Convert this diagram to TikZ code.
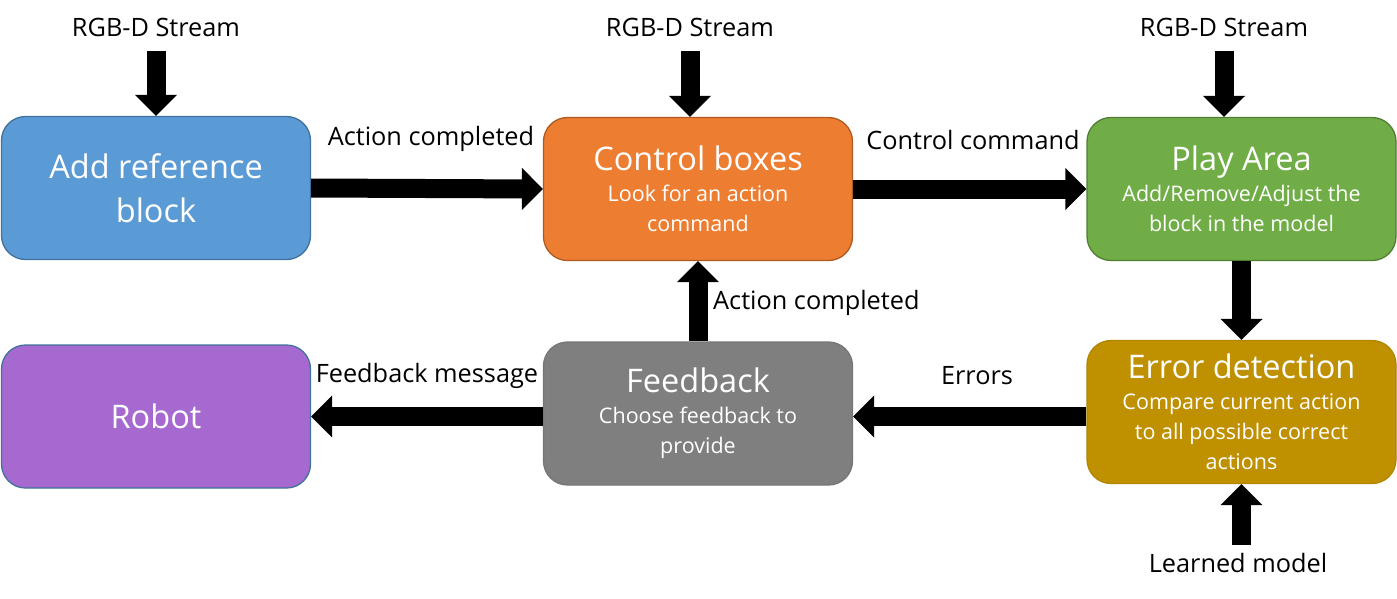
\documentclass[tikz,border=0pt]{standalone}
\usepackage{fontspec}
\setmainfont{Open Sans}
\usetikzlibrary{arrows.meta}
\definecolor{cblue}{HTML}{5B9BD5}
\definecolor{bblue}{HTML}{41719C}
\definecolor{corange}{HTML}{ED7D31}
\definecolor{borange}{HTML}{AE5A21}
\definecolor{cgreen}{HTML}{70AD47}
\definecolor{bgreen}{HTML}{507E32}
\definecolor{cpurple}{HTML}{A569D0}
\definecolor{cgray}{HTML}{7F7F7F}
\definecolor{bgray}{HTML}{767676}
\definecolor{cgold}{HTML}{BF9000}
\definecolor{bgold}{HTML}{B08500}
\newcommand\titlef{\fontsize{32.5}{44}\selectfont}
\newcommand\subf{\fontsize{21.5}{30}\selectfont}
\newcommand\labf{\fontsize{25.3}{30}\selectfont}
\tikzset{
  box/.style 2 args={rounded corners=24pt, fill=#1, draw=#2, line width=1.3pt,
    minimum width=309pt, minimum height=143pt, text=white, align=center,
    inner sep=0pt, font=\subf},
  lab/.style={font=\labf, text=black, inner sep=0pt},
  bigarrow/.style={line width=19pt, -{Triangle[width=41pt,length=21pt]}},
}
\begin{document}
\begin{tikzpicture}[x=1pt,y=-1pt]
\useasboundingbox (0,0) rectangle (1397,598);
% boxes
\node[box={cblue}{bblue}, font=\titlef] (add) at (156,188) {Add reference\\block};
\node[box={corange}{borange}] (ctrl) at (698,189) {{\titlef Control boxes}\\[1pt]Look for an action\\command};
\node[box={cgreen}{bgreen}] (play) at (1241.5,189) {{\titlef Play Area}\\[1pt]Add/Remove/Adjust the\\block in the model};
\node[box={cpurple}{bblue}, font=\titlef] (robot) at (156,416.5) {Robot};
\node[box={cgray}{bgray}] (fb) at (698,413.5) {{\titlef Feedback}\\[1pt]Choose feedback to\\provide};
\node[box={cgold}{bgold}] (err) at (1241.5,412) {{\titlef Error detection}\\[1pt]Compare current action\\to all possible correct\\actions};
% labels
\node[lab] (s1) at (156,27) {RGB-D Stream};
\node[lab] (s2) at (690,27) {RGB-D Stream};
\node[lab] (s3) at (1224,27) {RGB-D Stream};
\node[lab] (lm) at (1238,563) {Learned model};
\node[lab] (l1) at (431,139) {Action completed};
\node[lab] (l2) at (973,140) {Control command};
\node[lab, anchor=west] (l3) at (713,303) {Action completed};
\node[lab] (l4) at (427,376) {Feedback message};
\node[lab] (l5) at (977,376) {Errors};
% arrows
\draw[bigarrow, shorten <=24pt] (s1.center) -- (add.north);
\draw[bigarrow, shorten <=24pt] (s2.center) -- (ctrl.north -| s2.center);
\draw[bigarrow, shorten <=24pt] (s3.center) -- (play.north -| s3.center);
\draw[bigarrow] (add.east) -- (ctrl.west);
\draw[bigarrow] (ctrl.east) -- (play.west);
\draw[bigarrow] (play.south) -- (err.north);
\draw[bigarrow] (fb.north) -- (ctrl.south);
\draw[bigarrow] (err.west |- robot.east) -- (fb.east |- robot.east);
\draw[bigarrow] (fb.west |- robot.east) -- (robot.east);
\draw[bigarrow, shorten <=18pt] (lm.center -| err.south) -- (err.south);
\end{tikzpicture}
\end{document}
